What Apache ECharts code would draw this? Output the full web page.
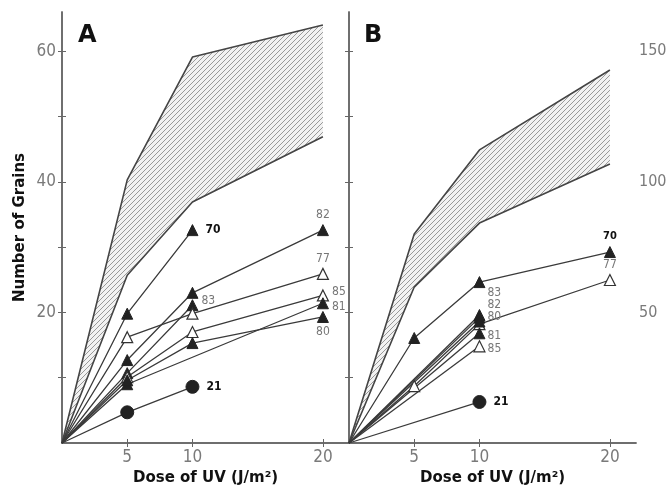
<!DOCTYPE html>
<html>
<head>
<meta charset="utf-8">
<script src="https://cdn.jsdelivr.net/npm/echarts@6/dist/echarts.min.js"></script>
<style>html,body{margin:0;padding:0;background:#fff;}#c{width:668px;height:489px;}</style>
</head>
<body>
<div id="c"></div>
<script>
// ---- data ----
const doses = [0, 5, 10, 20];
const xTicks = [5, 10, 20];
const yTicksA = [10, 20, 30, 40, 50, 60];
const yLabelsA = [20, 40, 60];
const yTicksB = [25, 50, 75, 100, 125, 150];
const yLabelsB = [50, 100, 150];

// Panel A (left scale)
const bandUpperA = [0, 40.3, 59.1, 64.0];
const bandLowerA = [0, 25.7, 36.9, 46.9];
const a70 = [[0, 0], [5, 19.8], [10, 32.6]];
const a82 = [[0, 0], [5, 12.7], [10, 23.0], [20, 32.6]];
const a83 = [[0, 0], [5, 10.7], [10, 21.1]];
const a77 = [[0, 0], [5, 16.2], [10, 19.8], [20, 25.9]];
const a85 = [[0, 0], [5, 10.1], [10, 17.0], [20, 22.6]];
const a80 = [[0, 0], [5, 9.6], [10, 15.3], [20, 19.3]];
const a81 = [[0, 0], [5, 9.0], [20, 21.4]];
const a21 = [[0, 0], [5, 4.7], [10, 8.6]];

// Panel B (right scale)
const bandUpperB = [0, 80.0, 112.2, 142.8];
const bandLowerB = [0, 59.7, 84.2, 106.8];
const b70 = [[0, 0], [5, 40.2], [10, 61.6], [20, 73.1]];
const b77 = [[0, 0], [5, 21.8], [10, 45.5], [20, 62.4]];
const b83 = [[0, 0], [10, 49.0]];
const b82 = [[0, 0], [10, 48.0]];
const b80 = [[0, 0], [10, 46.5]];
const b81 = [[0, 0], [10, 42.0]];
const b85 = [[0, 0], [10, 37.0]];
const b21 = [[0, 0], [10, 15.7]];

// ---- styles ----
const LINE = '#3a3a3a';
const AXIS = '#666';
const TICKTXT = '#7a7a7a';
const numFont = 'DejaVu Sans Condensed';

function hatch() {
  const n = 5;
  const c = document.createElement('canvas');
  c.width = n; c.height = n;
  const g = c.getContext('2d');
  g.fillStyle = '#f2f2f2'; g.fillRect(0, 0, n, n);
  g.strokeStyle = '#999'; g.lineWidth = 1;
  g.beginPath();
  g.moveTo(0, n); g.lineTo(n, 0);
  g.moveTo(-1, 1); g.lineTo(1, -1);
  g.moveTo(n - 1, n + 1); g.lineTo(n + 1, n - 1);
  g.stroke();
  return c;
}
const pattern = { image: hatch(), repeat: 'repeat' };

const SYM = {
  filled: { symbol: 'triangle', symbolSize: 11, itemStyle: { color: '#222', borderColor: '#222', borderWidth: 1 } },
  open: { symbol: 'triangle', symbolSize: 11, itemStyle: { color: '#fff', borderColor: '#333', borderWidth: 1.2 } },
  circle: { symbol: 'circle', symbolSize: 13, itemStyle: { color: '#222', borderColor: '#222' } }
};

function lbl(text, pos, opts) {
  return Object.assign({
    show: true, formatter: text, position: pos, distance: 4,
    color: '#777', fontFamily: numFont, fontSize: 12
  }, opts || {});
}
function boldLbl(text, pos, opts) {
  return lbl(text, pos, Object.assign({ color: '#111', fontWeight: 'bold', fontFamily: 'Liberation Sans Narrow, DejaVu Sans Condensed', fontSize: 12 }, opts || {}));
}

function mkSeries(name, pts, kind, label, gi) {
  const s = SYM[kind];
  const data = pts.map((p, i) => {
    const d = { value: p };
    if (i === 0) d.symbol = 'none';
    if (i === pts.length - 1 && label) d.label = label;
    return d;
  });
  return {
    name: name, type: 'line', xAxisIndex: gi * 2, yAxisIndex: gi * 2,
    data: data, symbol: s.symbol, symbolSize: s.symbolSize, showSymbol: true,
    itemStyle: s.itemStyle, lineStyle: { color: LINE, width: 1.3 },
    z: 3, animation: false, emphasis: { disabled: true }
  };
}
function edge(vals, gi) {
  return {
    type: 'line', xAxisIndex: gi * 2, yAxisIndex: gi * 2,
    data: doses.map((d, i) => [d, vals[i]]), symbol: 'none',
    lineStyle: { color: '#444', width: 1.6 }, z: 2, animation: false
  };
}
function band(upper, lower, gi) {
  return {
    type: 'custom', xAxisIndex: gi * 2, yAxisIndex: gi * 2, z: 1, animation: false,
    data: [[0, 0]],
    renderItem: function (params, api) {
      const pts = [];
      doses.forEach((d, i) => pts.push(api.coord([d, upper[i]])));
      for (let i = doses.length - 1; i >= 0; i--) pts.push(api.coord([doses[i], lower[i]]));
      return { type: 'polygon', shape: { points: pts }, style: { fill: pattern, stroke: null } };
    }
  };
}

function xAxisPair(gi) {
  const bottom = {
    gridIndex: gi, type: 'value', min: 0, max: 22, position: 'bottom',
    axisLine: { show: true, lineStyle: { color: AXIS, width: 1.5 } },
    axisTick: { show: true, inside: true, length: 4, customValues: xTicks, lineStyle: { color: AXIS } },
    axisLabel: { show: true, customValues: xTicks, color: TICKTXT, fontFamily: numFont, fontSize: 17, margin: 6 },
    splitLine: { show: false },
    name: 'Dose of UV (J/m²)', nameLocation: 'middle', nameGap: 20,
    nameTextStyle: { color: '#111', fontWeight: 'bold', fontSize: 15, fontFamily: 'DejaVu Sans' }
  };
  const top = {
    gridIndex: gi, type: 'value', min: 0, max: 22, position: 'top',
    axisLine: { show: true, lineStyle: { color: AXIS, width: 1.5 } },
    axisTick: { show: true, inside: true, length: 4, customValues: xTicks, lineStyle: { color: AXIS } },
    axisLabel: { show: false }, splitLine: { show: false }
  };
  return [bottom, top];
}

const yAxes = [
  { // A left
    gridIndex: 0, type: 'value', min: 0, max: 66, position: 'left',
    axisLine: { show: true, lineStyle: { color: AXIS, width: 1.5 } },
    axisTick: { show: true, inside: true, length: 4, customValues: yTicksA, lineStyle: { color: AXIS } },
    axisLabel: { show: true, customValues: yLabelsA, color: TICKTXT, fontFamily: numFont, fontSize: 17, margin: 6 },
    splitLine: { show: false },
    name: 'Number of Grains', nameLocation: 'middle', nameGap: 34, nameRotate: 90,
    nameTextStyle: { color: '#111', fontWeight: 'bold', fontSize: 15, fontFamily: 'DejaVu Sans' }
  },
  { // A right
    gridIndex: 0, type: 'value', min: 0, max: 66, position: 'right',
    axisLine: { show: true, lineStyle: { color: AXIS, width: 1.5 } },
    axisTick: { show: true, inside: true, length: 4, customValues: yTicksA, lineStyle: { color: AXIS } },
    axisLabel: { show: false }, splitLine: { show: false }
  },
  { // B right (labelled)
    gridIndex: 1, type: 'value', min: 0, max: 165, position: 'right',
    axisLine: { show: true, lineStyle: { color: AXIS, width: 1.5 } },
    axisTick: { show: true, inside: true, length: 4, customValues: yTicksB, lineStyle: { color: AXIS } },
    axisLabel: { show: true, customValues: yLabelsB, color: TICKTXT, fontFamily: numFont, fontSize: 16, margin: 3 },
    splitLine: { show: false }
  },
  { // B left
    gridIndex: 1, type: 'value', min: 0, max: 165, position: 'left',
    axisLine: { show: true, lineStyle: { color: AXIS, width: 1.5 } },
    axisTick: { show: true, inside: true, length: 4, customValues: yTicksB, lineStyle: { color: AXIS } },
    axisLabel: { show: false }, splitLine: { show: false }
  }
];

const series = [
  band(bandUpperA, bandLowerA, 0), edge(bandUpperA, 0), edge(bandLowerA, 0),
  mkSeries('70', a70, 'filled', boldLbl('70', 'right', { distance: 7 }), 0),
  mkSeries('82', a82, 'filled', lbl('82', 'top', { distance: 3 }), 0),
  mkSeries('83', a83, 'filled', lbl('83', 'right', { offset: [0, -4], distance: 3 }), 0),
  mkSeries('77', a77, 'open', lbl('77', 'top', { distance: 3 }), 0),
  mkSeries('85', a85, 'open', lbl('85', 'right', { offset: [0, -4], distance: 3 }), 0),
  mkSeries('81', a81, 'filled', lbl('81', 'right', { offset: [0, 4], distance: 3 }), 0),
  mkSeries('80', a80, 'filled', lbl('80', 'bottom', { distance: 3 }), 0),
  mkSeries('21', a21, 'circle', boldLbl('21', 'right', { distance: 7 }), 0),

  band(bandUpperB, bandLowerB, 1), edge(bandUpperB, 1), edge(bandLowerB, 1),
  mkSeries('70', b70, 'filled', boldLbl('70', 'top', { distance: 4, fontSize: 11 }), 1),
  mkSeries('77', b77, 'open', lbl('77', 'top', { distance: 3 }), 1),
  mkSeries('83', b83, 'filled', lbl('83', 'right', { offset: [0, -22], distance: 2 }), 1),
  mkSeries('82', b82, 'filled', lbl('82', 'right', { offset: [0, -13], distance: 2 }), 1),
  mkSeries('80', b80, 'filled', lbl('80', 'right', { offset: [0, -5], distance: 2 }), 1),
  mkSeries('81', b81, 'filled', lbl('81', 'right', { offset: [0, 3], distance: 2 }), 1),
  mkSeries('85', b85, 'open', lbl('85', 'right', { offset: [0, 3], distance: 2 }), 1),
  mkSeries('21', b21, 'circle', boldLbl('21', 'right', { distance: 7 }), 1)
];
// panel B series use the right-scale axis (index 2 in yAxes), x axis index 2
series.forEach(s => {
  if (s.xAxisIndex === 2) { s.yAxisIndex = 2; }
});

const chart = echarts.init(document.getElementById('c'), null, { renderer: 'canvas' });
chart.setOption({
  animation: false,
  backgroundColor: '#fff',
  grid: [
    { left: 62, right: 319, top: 12, bottom: 46, containLabel: false, outerBoundsMode: 'none' },
    { left: 349, right: 32, top: 12, bottom: 46, containLabel: false, outerBoundsMode: 'none' }
  ],
  xAxis: [].concat(xAxisPair(0), xAxisPair(1)),
  yAxis: yAxes,
  series: series,
  graphic: [
    { type: 'text', left: 78, top: 24, style: { text: 'A', font: 'bold 24px DejaVu Sans', fill: '#111' } },
    { type: 'text', left: 364, top: 24, style: { text: 'B', font: 'bold 24px DejaVu Sans', fill: '#111' } }
  ]
});
</script>
</body>
</html>
